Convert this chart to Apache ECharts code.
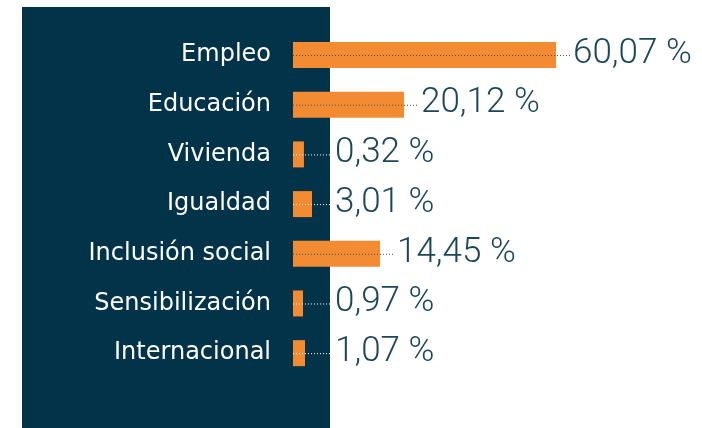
<!DOCTYPE html>
<html>
<head>
<meta charset="utf-8">
<script src="https://cdn.jsdelivr.net/npm/echarts@6/dist/echarts.min.js"></script>
<style>
html,body{margin:0;padding:0;background:#ffffff;}
#chart{width:702px;height:428px;}
</style>
</head>
<body>
<div id="chart"></div>
<script>
var categories = ['Empleo', 'Educación', 'Vivienda', 'Igualdad', 'Inclusión social', 'Sensibilización', 'Internacional'];
var shareLabels = ['60,07 %', '20,12 %', '0,32 %', '3,01 %', '14,45 %', '0,97 %', '1,07 %'];
var barLengths = [60.07, 25.35, 2.5, 4.34, 19.87, 2.28, 2.74];

var NAVY = '#023348';
var ORANGE = '#f28b32';
var VALUE_COLOR = '#1c4759';

var chart = echarts.init(document.getElementById('chart'), null, {renderer: 'canvas'});

var customData = barLengths.map(function (v, i) { return [i, v]; });

chart.setOption({
  backgroundColor: '#ffffff',
  animation: false,
  graphic: [{
    type: 'rect',
    z: -10,
    shape: {x: 22, y: 7, width: 308, height: 421},
    style: {fill: NAVY}
  }],
  grid: {left: 293, top: 30.2, width: 350.3, height: 347.8, containLabel: false},
  xAxis: {
    type: 'value', min: 0, max: 80, show: false
  },
  yAxis: {
    type: 'category',
    data: categories,
    inverse: true,
    axisLine: {show: false},
    axisTick: {show: false},
    splitLine: {show: false},
    axisLabel: {
      color: '#ffffff',
      fontFamily: 'DejaVu Sans',
      fontSize: 24,
      margin: 22
    }
  },
  series: [{
    type: 'bar',
    data: barLengths,
    barWidth: 26,
    itemStyle: {color: ORANGE},
    z: 2
  }, {
    type: 'custom',
    data: customData,
    encode: {x: 1, y: 0},
    z: 5,
    renderItem: function (params, api) {
      var idx = api.value(0);
      var start = api.coord([0, idx]);
      var end = api.coord([api.value(1), idx]);
      var textX = Math.max(end[0] + 17, 335);
      var dotColor = end[0] > 330 ? '#3a5563' : '#ffffff';
      return {
        type: 'group',
        children: [{
          type: 'line',
          shape: {x1: start[0], y1: start[1] + 0.5, x2: textX - 2, y2: start[1] + 0.5},
          style: {stroke: dotColor, lineWidth: 1, lineDash: [1, 2]}
        }, {
          type: 'text',
          style: {
            x: textX,
            y: start[1] - 1,
            text: shareLabels[idx],
            fill: VALUE_COLOR,
            font: '300 35px Roboto',
            textAlign: 'left',
            textVerticalAlign: 'middle'
          }
        }]
      };
    }
  }]
});
</script>
</body>
</html>
